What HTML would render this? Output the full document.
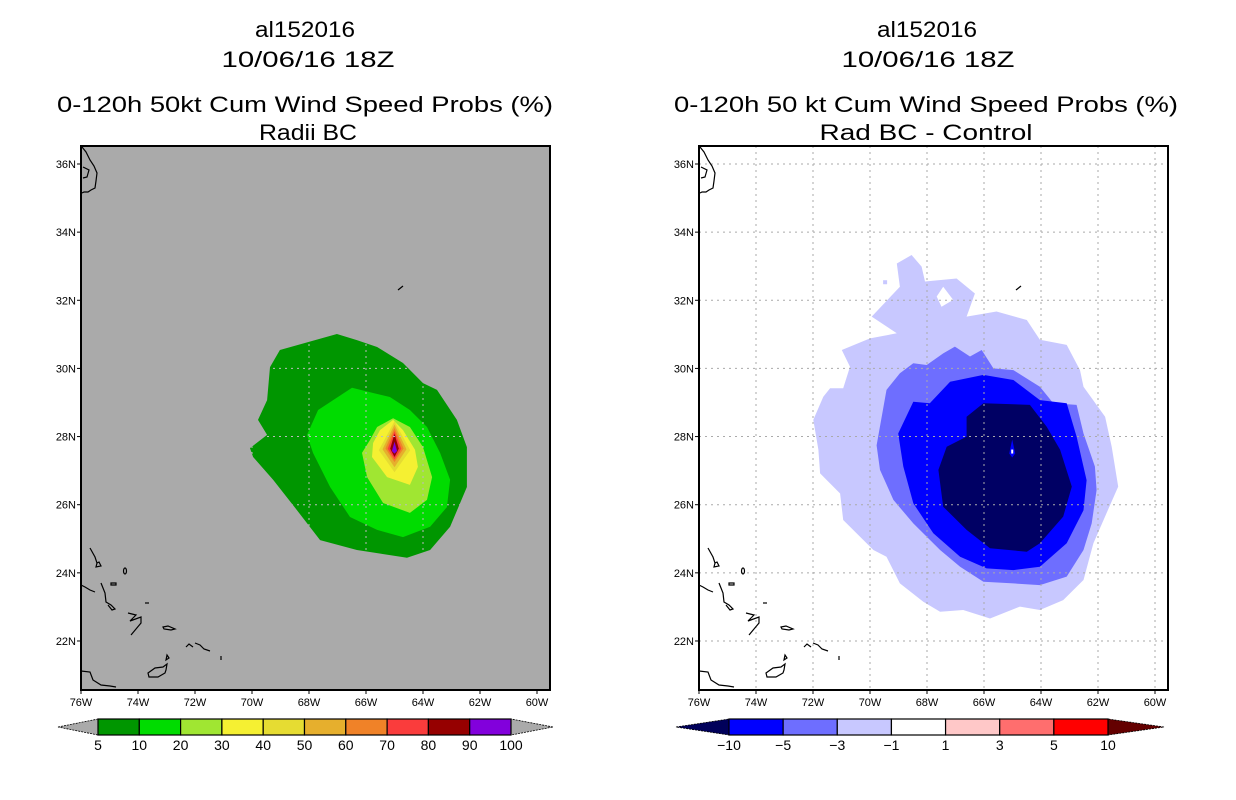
<!DOCTYPE html>
<html><head><meta charset="utf-8">
<style>
html,body{margin:0;padding:0;background:#fff;}
svg{display:block;font-family:"Liberation Sans",sans-serif;}
</style></head>
<body>
<svg id="chart" width="1236" height="800" viewBox="0 0 1236 800" xmlns="http://www.w3.org/2000/svg">
<defs>
<g id="coast" fill="none" stroke="#000" stroke-width="1.2">
  <path d="M82,147 L86,152 L90,160 L94,166 L97,173 L96,181 L95,188 L91,190 L88,192 L84,192 L82,193"/>
  <path d="M83,167 L89,170 L87,177 L83,178"/>
  <path d="M90,548 L95,557 L97,563 L96,567 L101,566 L99,562 L97,563"/>
  <ellipse cx="125" cy="571" rx="1.5" ry="3"/>
  <path d="M81,585 L85,587 L90,590 L95,592"/>
  <path d="M101,583 L103,588 L105,593 L106,602 L111,605 L115,609 L112,610 L108,605"/>
  <path d="M111,583 L116,583 L116,585 L111,585 Z"/>
  <path d="M145,603 L149,603"/>
  <path d="M128,613 L136,615 L130,621 L141,617 L141,623 L136,629 L131,635"/>
  <path d="M163,627 L168,626 L175,629 L171,630 L164,629 Z"/>
  <path d="M186,647 L189,644 L193,647"/>
  <path d="M195,643 L200,645 L204,649 L210,651"/>
  <path d="M148,673 L155,668 L163,667 L167,664 L166,670 L165,673 L158,677 L149,677 Z"/>
  <path d="M167,655 L169,658 L166,660 Z"/>
  <path d="M221,656 L221,660"/>
  <path d="M81,671 L90,672 L93,680 L101,685 L110,686 L116,687"/>
  <path d="M398,290 L403,286"/>
</g>
</defs>

<g font-size="22" text-anchor="middle" fill="#000">
  <text x="305" y="37" textLength="100" lengthAdjust="spacingAndGlyphs">al152016</text>
  <text x="308" y="67" textLength="173" lengthAdjust="spacingAndGlyphs">10/06/16 18Z</text>
  <text x="305" y="112" textLength="496" lengthAdjust="spacingAndGlyphs">0-120h 50kt Cum Wind Speed Probs (%)</text>
  <text x="308" y="140" textLength="98" lengthAdjust="spacingAndGlyphs">Radii BC</text>
</g>
<g font-size="22" text-anchor="middle" fill="#000">
  <text x="927" y="37" textLength="100" lengthAdjust="spacingAndGlyphs">al152016</text>
  <text x="928" y="67" textLength="173" lengthAdjust="spacingAndGlyphs">10/06/16 18Z</text>
  <text x="926" y="112" textLength="504" lengthAdjust="spacingAndGlyphs">0-120h 50 kt Cum Wind Speed Probs (%)</text>
  <text x="926" y="140" textLength="213" lengthAdjust="spacingAndGlyphs">Rad BC - Control</text>
</g>

<g id="leftPanel"></g>
<g id="rightPanel"></g>
<g id="leftBar"></g>
<g id="rightBar"></g>
</svg>

<script>
const lonTicks = [-76,-74,-72,-70,-68,-66,-64,-62,-60];
const latTicks = [22,24,26,28,30,32,34,36];
const leftLevels = ["5","10","20","30","40","50","60","70","80","90","100"];
const leftColors = ["#009600","#00dc00","#a0e632","#f5f032","#e6dc32","#e6af2d","#f08228","#fa3c3c","#960000","#8200dc"];
const rightLevels = ["-10","-5","-3","-1","1","3","5","10"];
const rightColors = ["#000064","#0000ff","#6e6eff","#c8c8ff","#ffffff","#ffc8c8","#ff6e6e","#ff0000"];
const rightLow = "#00005a", rightHigh = "#640000";

const p5Lon = [-67.02,-69.02,-69.37,-69.47,-69.79,-69.47,-70.07,-69.96,-69.26,-68.42,-67.61,-66.32,-64.56,-63.75,-63.05,-62.46,-62.46,-62.81,-63.51,-64.0,-64.70,-65.61,-66.32];
const p5Lat = [31.01,30.54,30.04,29.07,28.49,28.05,27.66,27.40,26.73,25.84,24.96,24.67,24.44,24.67,25.35,26.52,27.69,28.49,29.37,29.57,30.16,30.63,30.83];
const p10Lon = [-66.49,-67.26,-67.68,-68.07,-67.86,-67.26,-66.56,-65.61,-64.70,-63.75,-63.16,-63.05,-63.40,-63.86,-64.46,-65.16,-65.75];
const p10Lat = [29.43,29.01,28.78,28.05,27.52,26.52,25.64,25.26,25.05,25.35,25.93,26.73,27.52,28.28,28.78,29.16,29.28];
const p20Lon = [-65.05,-65.61,-65.86,-66.14,-65.96,-65.40,-64.46,-63.86,-63.68,-64.0,-64.46];
const p20Lat = [28.54,28.28,27.90,27.52,26.81,26.05,25.76,26.14,26.81,27.69,28.28];
const p30Lon = [-65.05,-65.51,-65.75,-65.79,-65.26,-64.46,-64.18,-64.28,-64.70];
const p30Lat = [28.49,28.19,27.81,27.40,26.81,26.58,27.11,27.61,28.19];
const peakLon = -65.0;
const peakLevels = [40,50,60,70,80,90];
const peakHalfW = [0.55,0.42,0.32,0.24,0.15,0.09];
const peakTop = [28.45,28.35,28.25,28.15,28.08,27.85];
const peakBot = [26.95,27.10,27.25,27.33,27.40,27.50];

const r1Lon = [-68.54,-68.19,-68.07,-66.96,-66.32,-66.61,-65.56,-64.50,-64.04,-63.10,-62.63,-62.51,-61.75,-61.52,-61.29,-61.70,-62.16,-62.51,-63.22,-64.04,-64.74,-65.79,-66.73,-67.54,-68.13,-68.95,-69.42,-69.88,-70.94,-71.05,-71.75,-71.81,-71.99,-71.64,-71.40,-70.94,-70.70,-70.99,-70.00,-69.06,-69.94,-68.95,-69.06];
const r1Lat = [33.33,32.99,32.55,32.64,32.20,31.52,31.67,31.42,30.84,30.69,29.95,29.46,28.58,27.70,26.53,25.75,24.87,23.79,23.20,22.91,23.01,22.66,22.91,22.86,23.15,23.69,24.47,24.67,25.55,26.33,26.92,27.61,28.49,29.17,29.42,29.42,30.05,30.54,30.88,31.03,31.52,32.40,33.08];
const holeLon = [-67.66,-67.43,-67.08,-67.49];
const holeLat = [32.11,32.40,32.01,31.81];
const r3Lon = [-67.02,-66.49,-66.08,-65.67,-64.97,-64.04,-63.57,-62.75,-62.51,-62.11,-62.05,-62.22,-62.51,-63.10,-64.04,-64.97,-66.02,-66.84,-67.54,-68.48,-69.18,-69.65,-69.77,-69.42,-68.95,-68.48,-68.01,-67.43];
const r3Lat = [30.64,30.35,30.54,30.00,29.95,29.46,28.98,28.93,28.09,27.12,26.43,25.45,24.67,23.89,23.64,23.69,23.74,24.18,24.67,25.45,26.14,27.02,27.74,29.37,29.86,30.15,30.10,30.44];
const r5Lon = [-66.02,-64.97,-64.04,-63.10,-62.75,-62.40,-62.51,-63.10,-64.04,-64.97,-65.91,-66.84,-67.78,-68.48,-68.83,-69.01,-68.48,-67.90,-67.19];
const r5Lat = [29.81,29.66,29.07,28.98,28.00,26.72,25.84,24.87,24.18,24.08,24.13,24.47,25.16,26.04,27.12,28.09,29.02,28.98,29.61];
const r10Lon = [-66.02,-64.39,-63.80,-63.33,-62.92,-63.22,-64.04,-64.50,-65.79,-66.61,-67.43,-67.60,-67.31,-66.61,-66.61];
const r10Lat = [28.98,28.93,28.29,27.61,26.53,25.65,24.87,24.62,24.72,25.26,25.94,27.02,27.70,28.00,28.58];

const NS = "http://www.w3.org/2000/svg";
const FX = 81, FY = 146, FW = 469, FH = 544;
function xOf(lon, off){ return FX + off + (lon + 76) * 28.5; }
function yOf(lat){ return 164 + (36 - lat) * 34.07; }
function mk(tag, attrs, parent){
  const e = document.createElementNS(NS, tag);
  for (const k in attrs) e.setAttribute(k, attrs[k]);
  parent.appendChild(e);
  return e;
}
function poly(lons, lats, off){
  return lons.map((l,i)=> xOf(l,off).toFixed(1)+","+yOf(lats[i]).toFixed(1)).join(" ");
}

function drawPanel(g, off, bg){
  const clipId = "clip"+off;
  const cp = mk("clipPath",{id:clipId}, g);
  mk("rect",{x:FX+off,y:FY,width:FW,height:FH}, cp);
  const bgRect = mk("rect",{x:FX+off,y:FY,width:FW,height:FH,fill:bg}, g);
  
  
  return mk("g",{"clip-path":"url(#"+clipId+")"}, g);
}
function drawFrame(g, off, gridColor, gridClip){
  const attrs = {stroke:gridColor,"stroke-width":1,"stroke-dasharray":"2,4"};
  if (gridClip) attrs["clip-path"] = "url(#"+gridClip+")";
  const grid = mk("g",attrs, g);
  
  
  lonTicks.forEach(l=>{ const x=xOf(l,off); if(x>FX+off+2 && x<FX+off+FW-2) mk("line",{x1:x,y1:FY,x2:x,y2:FY+FH},grid); });
  latTicks.forEach(l=>{ const y=yOf(l); mk("line",{x1:FX+off,y1:y,x2:FX+off+FW,y2:y},grid); });
  const uc = mk("use",{href:"#coast",transform:"translate("+off+",0)"}, g);
  
  
  const fr = mk("rect",{x:FX+off,y:FY,width:FW,height:FH,fill:"none",stroke:"#000","stroke-width":2}, g);
  
  
  lonTicks.forEach(l=>{
    const x = xOf(l,off);
    mk("line",{x1:x,y1:FY+FH,x2:x,y2:FY+FH+4,stroke:"#000","stroke-width":1}, g);
    const t = mk("text",{x:x,y:FY+FH+16,"font-size":11,"text-anchor":"middle"}, g);
    t.textContent = Math.abs(l)+"W";
    
    
  });
  latTicks.forEach(l=>{
    const y = yOf(l);
    mk("line",{x1:FX+off-4,y1:y,x2:FX+off,y2:y,stroke:"#000","stroke-width":1}, g);
    const t = mk("text",{x:FX+off-5,y:y+4,"font-size":11,"text-anchor":"end"}, g);
    t.textContent = l+"N";
    
    
  });
}

const LP = document.getElementById("leftPanel");
const lc = drawPanel(LP, 0, "#aaaaaa");
[[p5Lon,p5Lat,0],[p10Lon,p10Lat,1],[p20Lon,p20Lat,2],[p30Lon,p30Lat,3]].forEach(([a,b,ci])=>{
  const p = mk("polygon",{points:poly(a,b,0),fill:leftColors[ci]}, lc);
  
  
});
peakLevels.forEach((lv,i)=>{
  const mid = (peakTop[i]+peakBot[i])/2;
  const lons = [peakLon, peakLon+peakHalfW[i], peakLon, peakLon-peakHalfW[i]];
  const lats = [peakTop[i], mid-0.1, peakBot[i], mid-0.1];
  const p = mk("polygon",{points:poly(lons,lats,0),fill:leftColors[i+4]}, lc);
  
  
});
const gcp = mk("clipPath",{id:"gridClipL"}, LP);
mk("polygon",{points:poly(p5Lon,p5Lat,0)}, gcp);
drawFrame(LP, 0, "#bbbbbb", "gridClipL");

const OFF = 618;
const RP = document.getElementById("rightPanel");
const rc = drawPanel(RP, OFF, "#ffffff");
[[r1Lon,r1Lat,3],[r3Lon,r3Lat,2],[r5Lon,r5Lat,1],[r10Lon,r10Lat,0]].forEach(([a,b,ci])=>{
  const p = mk("polygon",{points:poly(a,b,OFF),fill:rightColors[ci]}, rc);
  
  
});
const hole = mk("polygon",{points:poly(holeLon,holeLat,OFF),fill:"#ffffff"}, rc);


const dot = mk("rect",{x:xOf(-69.47,OFF)-2,y:yOf(32.53)-2,width:4,height:4,fill:rightColors[3]}, rc);


const cx = xOf(-65.01,OFF), cy = yOf(27.56);
const drop = mk("polygon",{points:(cx)+","+(cy-12)+" "+(cx+3)+","+(cy+2)+" "+cx+","+(cy+6)+" "+(cx-3)+","+(cy+2),fill:"#0000ff"}, rc);


const dropc = mk("rect",{x:cx-1,y:cy-2,width:2,height:4,fill:"#ffffff"}, rc);


drawFrame(RP, OFF, "#aaaaaa", null);

function colorbar(g, x0, x1, y0, h, colors, labels, lowC, highC, lowX, highX){
  const n = colors.length, w = (x1-x0)/n;
  const lt = mk("polygon",{points:lowX+","+(y0+h/2)+" "+x0+","+y0+" "+x0+","+(y0+h),fill:lowC,stroke:"#000","stroke-width":0.8,"stroke-dasharray":"2,1"}, g);
  
  
  const ht = mk("polygon",{points:highX+","+(y0+h/2)+" "+x1+","+y0+" "+x1+","+(y0+h),fill:highC,stroke:"#000","stroke-width":0.8,"stroke-dasharray":"2,1"}, g);
  
  
  colors.forEach((c,i)=>{
    const r = mk("rect",{x:x0+i*w,y:y0,width:w,height:h,fill:c,stroke:"#000","stroke-width":1.2}, g);
    
    
  });
  labels.forEach((s,i)=>{
    const t = mk("text",{x:x0+i*w,y:y0+h+15,"font-size":14,"text-anchor":"middle"}, g);
    t.textContent = s.replace("-","\u2212");
    
    
  });
}
colorbar(document.getElementById("leftBar"), 98, 511, 719, 16, leftColors, leftLevels, "#aaaaaa", "#aaaaaa", 58, 553);
colorbar(document.getElementById("rightBar"), 729, 1108, 719, 16, rightColors.slice(1), rightLevels, rightLow, rightHigh, 676, 1164);
</script>
</body></html>
